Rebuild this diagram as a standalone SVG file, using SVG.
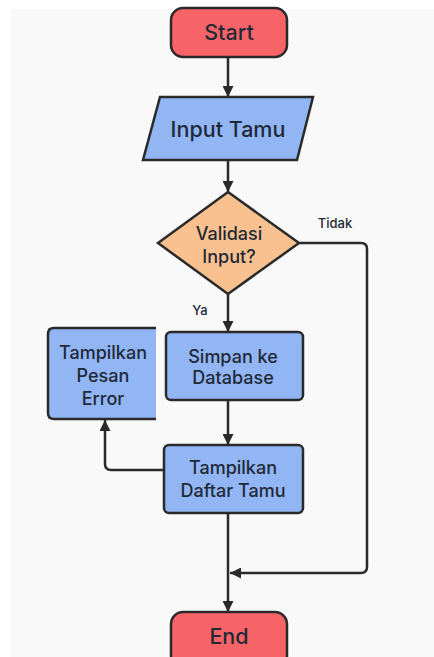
<svg xmlns="http://www.w3.org/2000/svg" width="434" height="657" viewBox="0 0 434 657">
<style>
.t{font-family:Inter,"Noto Sans","Liberation Sans",sans-serif;font-weight:500;fill:#1f2937;text-anchor:middle}
.big{font-size:21.5px}
.mid{font-size:18px}
.sm{font-size:13px}
.sh{stroke:#2a2a2a;stroke-width:2.5}
.red{fill:#f76468}
.blue{fill:#92b5f4}
.org{fill:#f9c18f}
.ln{fill:none;stroke:#2a2a2a;stroke-width:2.5}
</style>
<defs>
<marker id="a" viewBox="0 0 10 10" refX="10" refY="5" markerWidth="11" markerHeight="11" orient="auto" markerUnits="userSpaceOnUse">
<path d="M0,0 L10,5 L0,10 z" fill="#2a2a2a"/>
</marker>
</defs>
<rect x="0" y="0" width="434" height="657" fill="#ffffff"/>
<rect x="11" y="9" width="423" height="648" fill="#f9f9f9"/>
<g id="connectors">
<line class="ln" x1="228" y1="57" x2="228" y2="97" marker-end="url(#a)"/>
<line class="ln" x1="228" y1="160" x2="228" y2="192" marker-end="url(#a)"/>
<line class="ln" x1="228" y1="294" x2="228" y2="332" marker-end="url(#a)"/>
<line class="ln" x1="228" y1="400" x2="228" y2="445" marker-end="url(#a)"/>
<path class="ln" d="M164,470 H111 Q105,470 105,464 V420" marker-end="url(#a)"/>
<line class="ln" x1="228" y1="513" x2="228" y2="612" marker-end="url(#a)"/>
<path class="ln" d="M299,243 H361 Q367,243 367,249 V567 Q367,573 361,573 H230" marker-end="url(#a)"/>
<text class="t sm" x="335" y="228">Tidak</text>
<text class="t sm" x="200" y="315">Ya</text>
</g>
<g id="start">
<rect class="sh red" x="171" y="8" width="116" height="49" rx="12"/>
<text class="t big" x="229" y="40">Start</text>
</g>
<g id="input">
<polygon class="sh blue" points="160,97 313,97 297,160 143,160"/>
<text class="t big" x="228" y="137">Input Tamu</text>
</g>
<g id="validasi">
<polygon class="sh org" points="228,192 299,243 228,294 158,243"/>
<text class="t mid" x="229" y="240">Validasi</text>
<text class="t mid" x="229" y="263">Input?</text>
</g>
<g id="simpan">
<rect class="sh blue" x="166" y="332" width="137" height="68" rx="5"/>
<text class="t mid" x="233" y="363">Simpan ke</text>
<text class="t mid" x="233" y="384">Database</text>
</g>
<g id="daftar">
<rect class="sh blue" x="164" y="445" width="139" height="68" rx="5"/>
<text class="t mid" x="233" y="474">Tampilkan</text>
<text class="t mid" x="233" y="497">Daftar Tamu</text>
</g>
<g id="error">
<rect class="blue" x="48" y="328" width="108" height="91"/>
<path class="ln" d="M156,328 H54 Q48,328 48,334 V413 Q48,419 54,419 H156"/>
<text class="t mid" x="103" y="359">Tampilkan</text>
<text class="t mid" x="103" y="382">Pesan</text>
<text class="t mid" x="103" y="405">Error</text>
</g>
<g id="end">
<rect class="sh red" x="171" y="612" width="116" height="56" rx="12"/>
<text class="t big" x="229" y="644">End</text>
</g>
</svg>
